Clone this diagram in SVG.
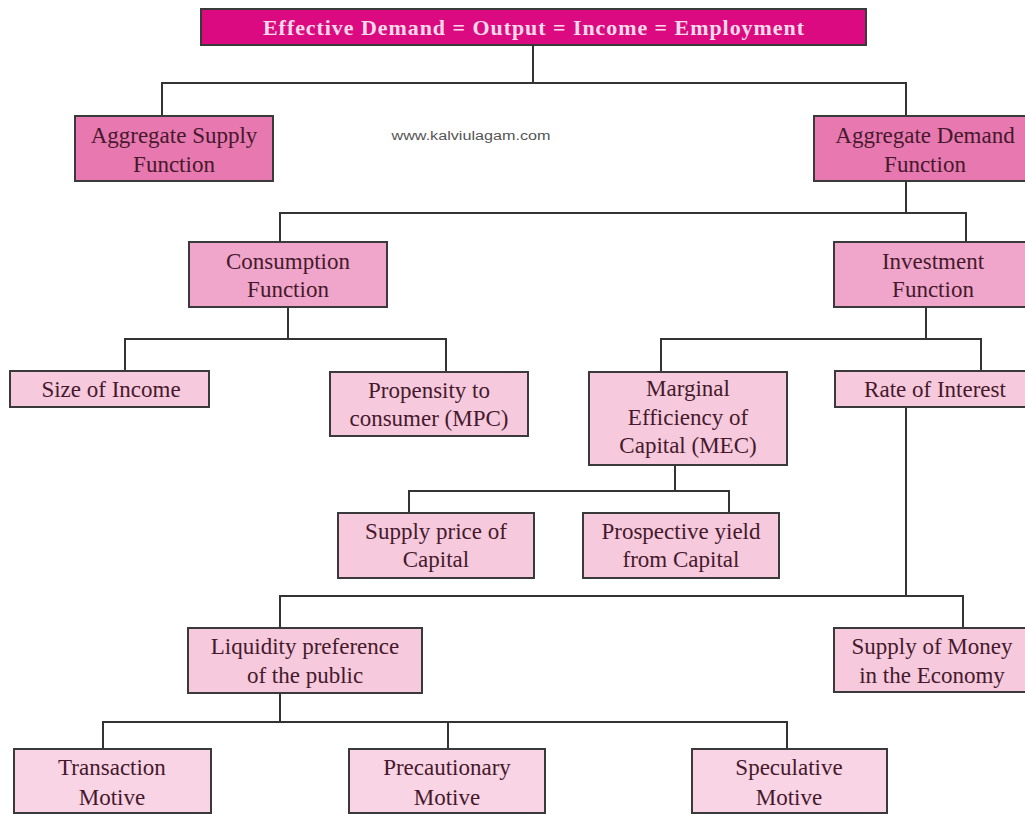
<svg xmlns="http://www.w3.org/2000/svg" width="1025" height="814" viewBox="0 0 1025 814">
<style>
.box{stroke:#3a3a3a;stroke-width:2}
.l1{fill:#E878B0}
.l2{fill:#F0A6CA}
.l3{fill:#F6C9DD}
.l4{fill:#F9D4E5}
.t{font-family:"Liberation Serif",serif;font-size:23px;fill:#45192C;text-anchor:middle}
.conn path{fill:none;stroke:#333;stroke-width:2}
</style>
<rect x="0" y="0" width="1025" height="814" fill="#ffffff"/>
<g id="top">
<rect class="box" x="201" y="9" width="665" height="36" fill="#DC0A80"/>
<text x="533.5" y="35" font-family="Liberation Serif,serif" font-size="22" font-weight="bold" fill="#F9D9EA" text-anchor="middle" textLength="541" lengthAdjust="spacing">Effective Demand = Output = Income = Employment</text>
</g>
<text x="471" y="140" font-family="Liberation Sans,sans-serif" font-size="12" fill="#555" text-anchor="middle" textLength="159" lengthAdjust="spacingAndGlyphs">www.kalviulagam.com</text>
<g class="conn" id="connectors">
<path d="M533,45V83"/>
<path d="M162,116V83H906V116"/>
<path d="M906,181V213"/>
<path d="M280,242V213H966V242"/>
<path d="M288,307V339"/>
<path d="M125,371V339H446V372"/>
<path d="M926,307V339"/>
<path d="M661,372V339H981V372"/>
<path d="M906,407V596"/>
<path d="M675,465V491"/>
<path d="M409,513V491H729V513"/>
<path d="M280,628V596H963V628"/>
<path d="M280,693V722"/>
<path d="M103,749V722H787V749"/>
<path d="M448,722V749"/>
</g>
<g id="agg-supply">
<rect class="box l1" x="75" y="116" width="198" height="65"/>
<text class="t" x="174" y="143">Aggregate Supply</text>
<text class="t" x="174" y="172">Function</text>
</g>
<g id="agg-demand">
<rect class="box l1" x="814" y="116" width="230" height="65"/>
<text class="t" x="925" y="143">Aggregate Demand</text>
<text class="t" x="925" y="172">Function</text>
</g>
<g id="consumption">
<rect class="box l2" x="189" y="242" width="198" height="65"/>
<text class="t" x="288" y="269">Consumption</text>
<text class="t" x="288" y="297">Function</text>
</g>
<g id="investment">
<rect class="box l2" x="834" y="242" width="210" height="65"/>
<text class="t" x="933" y="269">Investment</text>
<text class="t" x="933" y="297">Function</text>
</g>
<g id="size-income">
<rect class="box l3" x="10" y="371" width="199" height="36"/>
<text class="t" x="111" y="397">Size of Income</text>
</g>
<g id="propensity">
<rect class="box l3" x="330" y="372" width="198" height="64"/>
<text class="t" x="429" y="398">Propensity to</text>
<text class="t" x="429" y="426">consumer (MPC)</text>
</g>
<g id="mec">
<rect class="box l3" x="589" y="372" width="198" height="93"/>
<text class="t" x="688" y="396">Marginal</text>
<text class="t" x="688" y="425">Efficiency of</text>
<text class="t" x="688" y="453">Capital (MEC)</text>
</g>
<g id="rate-interest">
<rect class="box l3" x="835" y="371" width="210" height="36"/>
<text class="t" x="935" y="397">Rate of Interest</text>
</g>
<g id="supply-price">
<rect class="box l3" x="338" y="513" width="196" height="65"/>
<text class="t" x="436" y="539">Supply price of</text>
<text class="t" x="436" y="567">Capital</text>
</g>
<g id="prospective">
<rect class="box l3" x="583" y="513" width="196" height="65"/>
<text class="t" x="681" y="539">Prospective yield</text>
<text class="t" x="681" y="567">from Capital</text>
</g>
<g id="liquidity">
<rect class="box l3" x="188" y="628" width="234" height="65"/>
<text class="t" x="305" y="654">Liquidity preference</text>
<text class="t" x="305" y="683">of the public</text>
</g>
<g id="money-supply">
<rect class="box l3" x="834" y="628" width="210" height="64"/>
<text class="t" x="932" y="654">Supply of Money</text>
<text class="t" x="932" y="683">in the Economy</text>
</g>
<g id="transaction">
<rect class="box l4" x="14" y="749" width="197" height="64"/>
<text class="t" x="112" y="775">Transaction</text>
<text class="t" x="112" y="805">Motive</text>
</g>
<g id="precautionary">
<rect class="box l4" x="349" y="749" width="196" height="64"/>
<text class="t" x="447" y="775">Precautionary</text>
<text class="t" x="447" y="805">Motive</text>
</g>
<g id="speculative">
<rect class="box l4" x="692" y="749" width="195" height="64"/>
<text class="t" x="789" y="775">Speculative</text>
<text class="t" x="789" y="805">Motive</text>
</g>
</svg>
